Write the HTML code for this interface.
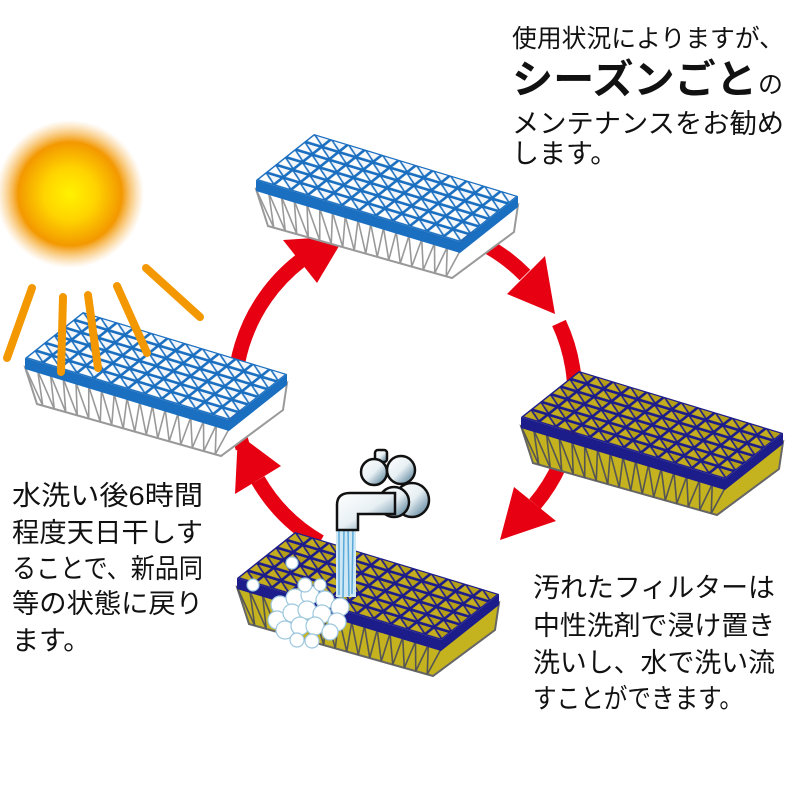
<!DOCTYPE html>
<html><head><meta charset="utf-8"><style>
html,body{margin:0;padding:0;background:#fff;width:800px;height:811px;overflow:hidden}
svg{display:block}
text{font-family:"Liberation Sans","Noto Sans CJK JP",sans-serif;fill:#111}
</style></head><body>
<svg width="800" height="811" viewBox="0 0 800 811" xmlns="http://www.w3.org/2000/svg">
<defs>
<radialGradient id="sun" cx="0.5" cy="0.5" r="0.5">
<stop offset="0" stop-color="#fff200"/><stop offset="0.35" stop-color="#ffd400"/>
<stop offset="0.7" stop-color="#f39800"/><stop offset="1" stop-color="#f7b552" stop-opacity="0"/>
</radialGradient>
<linearGradient id="chrome" x1="0" y1="0" x2="1" y2="1">
<stop offset="0" stop-color="#fff"/><stop offset="0.5" stop-color="#e8f0f4"/><stop offset="1" stop-color="#3f6f8a"/>
</linearGradient>
<pattern id="pb" patternUnits="userSpaceOnUse" width="1" height="1">
<rect width="1" height="1" fill="#1b6fc0"/>
<polygon points="0.1,0.14 0.88,0.14 0.1,0.86" fill="#fff"/>
<polygon points="0.92,0.24 0.92,0.88 0.22,0.88" fill="#f2f6fb"/>
</pattern>
<pattern id="pd" patternUnits="userSpaceOnUse" width="1" height="1">
<rect width="1" height="1" fill="#1c1c8a"/>
<polygon points="0.1,0.14 0.88,0.14 0.1,0.86" fill="#c4ad1e"/>
<polygon points="0.92,0.24 0.92,0.88 0.22,0.88" fill="#b59e18"/>
</pattern>
<g id="zig">
<polyline fill="none" stroke-width="1.6" points="0,9 17.75,47.6 12.75,12.9 29.25,50.9 25.5,16.8 40.75,54.1 38.25,20.6 52.25,57.4 51,24.5 63.75,60.6 63.75,28.4 75.25,63.9 76.5,32.3 86.75,67.1 89.25,36.1 98.25,70.4 102,40 109.75,73.6 114.75,43.9 121.25,76.9 127.5,47.8 132.75,80.1 140.25,51.6 144.25,83.4 153,55.5 155.75,86.6 165.75,59.4 167.25,89.9 178.5,63.3 178.75,93.1 191.25,67.1 190.25,96.4 204,71"/>
</g>
<g id="fb">
<polygon points="0,9 204,71 262,25 258,52 196,98 12,46" fill="#fff" stroke="#999" stroke-width="2"/>
<use href="#zig" stroke="#999"/>
<polygon points="0,0 204,62 262,16 262,27 204,73 0,11" fill="#1b6fc0"/>
<g transform="matrix(17,5.1667,9.6667,-7.6667,0,0)">
<polygon points="0,0 12,0 12,6 0,6" fill="url(#pb)"/>
</g>
</g>
<g id="fd">
<polygon points="0,9 204,71 262,25 258,52 196,98 12,46" fill="#c4b21e" stroke="#666" stroke-width="2"/>
<use href="#zig" stroke="#555"/>
<polygon points="0,0 204,62 262,16 262,27 204,73 0,11" fill="#1c1c8a"/>
<g transform="matrix(17,5.1667,9.6667,-7.6667,0,0)">
<polygon points="0,0 12,0 12,6 0,6" fill="url(#pd)"/>
</g>
</g>
</defs>

<!-- sun -->
<circle cx="70" cy="194" r="74" fill="url(#sun)"/>

<!-- arrows -->
<g fill="none" stroke="#e60012" stroke-width="15">
<path d="M243 448 A170 170 0 0 1 300 261"/>
<path d="M463 235 A170 170 0 0 1 525 275"/>
<path d="M559 323 A170 170 0 0 1 535 504"/>
<path d="M320 542 A170 170 0 0 1 258 480"/>
</g>
<g fill="#e60012">
<polygon points="317,283 283,240 345,236"/>
<polygon points="507,294 545,256 555,314"/>
<polygon points="514,487 556,521 500,540"/>
<polygon points="281,466 235,494 238,434"/>
</g>

<!-- filters -->
<use href="#fb" x="256" y="180"/>
<use href="#fb" x="25" y="358"/>
<use href="#fd" x="521" y="417"/>
<use href="#fd" x="237" y="578"/>

<!-- rays -->
<g stroke="#f39800" stroke-width="8" stroke-linecap="round">
<line x1="7" y1="358" x2="32" y2="288"/>
<line x1="61" y1="372" x2="63" y2="297"/>
<line x1="98" y1="368" x2="88" y2="295"/>
<line x1="147" y1="353" x2="117" y2="286"/>
<line x1="200" y1="317" x2="146" y2="268"/>
</g>

<!-- water -->
<g stroke="#5aa9d8" stroke-width="1.5">
<rect x="336" y="525" width="20" height="72" fill="#cfe8f6" stroke="none"/>
<line x1="339" y1="528" x2="339" y2="595"/><line x1="344" y1="528" x2="343" y2="598"/>
<line x1="348" y1="528" x2="349" y2="596"/><line x1="353" y1="528" x2="352" y2="594"/>
</g>
<!-- faucet -->
<g stroke="#111" stroke-width="2.5" fill="url(#chrome)">
<rect x="375" y="450" width="12" height="12" rx="3"/>
<circle cx="412" cy="500" r="17"/>
<circle cx="394" cy="502" r="15"/>
<path d="M337 530 L337 505 Q337 493 350 493 L395 493 L395 514 L358 514 L358 530 Z"/>
<circle cx="374" cy="472" r="13"/>
<circle cx="401" cy="470" r="14"/>
</g>

<!-- bubbles -->
<g fill="#fff" stroke="#9cc7de" stroke-width="1.2">
<circle cx="253" cy="585" r="6"/><circle cx="292" cy="563" r="6"/>
<circle cx="280" cy="605" r="9"/><circle cx="295" cy="598" r="9"/><circle cx="310" cy="595" r="9"/><circle cx="325" cy="600" r="9"/><circle cx="340" cy="607" r="9"/>
<circle cx="277" cy="620" r="9"/><circle cx="292" cy="613" r="9"/><circle cx="307" cy="610" r="9"/><circle cx="322" cy="614" r="9"/><circle cx="337" cy="622" r="9"/>
<circle cx="285" cy="630" r="9"/><circle cx="300" cy="626" r="9"/><circle cx="315" cy="626" r="9"/><circle cx="330" cy="632" r="8"/>
<circle cx="297" cy="640" r="7"/><circle cx="312" cy="641" r="7"/><circle cx="305" cy="585" r="7"/><circle cx="320" cy="585" r="6"/>
</g>

<!-- text -->
<text x="512" y="47" font-size="25" textLength="272" lengthAdjust="spacingAndGlyphs">使用状況によりますが、</text>
<text x="512" y="93" font-size="40" font-weight="bold" textLength="245" lengthAdjust="spacingAndGlyphs">シーズンごと</text>
<text x="758" y="93" font-size="25">の</text>
<text x="512" y="133" font-size="27" textLength="272" lengthAdjust="spacingAndGlyphs">メンテナンスをお勧め</text>
<text x="512" y="163" font-size="27">します。</text>

<text font-size="27">
<tspan x="12" y="505" textLength="191" lengthAdjust="spacingAndGlyphs">水洗い後6時間</tspan>
<tspan x="12" y="542" textLength="191" lengthAdjust="spacingAndGlyphs">程度天日干しす</tspan>
<tspan x="12" y="578" textLength="191" lengthAdjust="spacingAndGlyphs">ることで、新品同</tspan>
<tspan x="12" y="613" textLength="191" lengthAdjust="spacingAndGlyphs">等の状態に戻り</tspan>
<tspan x="12" y="650">ます。</tspan>
</text>
<text font-size="27">
<tspan x="533" y="597" textLength="242" lengthAdjust="spacingAndGlyphs">汚れたフィルターは</tspan>
<tspan x="533" y="635" textLength="242" lengthAdjust="spacingAndGlyphs">中性洗剤で浸け置き</tspan>
<tspan x="533" y="672" textLength="242" lengthAdjust="spacingAndGlyphs">洗いし、水で洗い流</tspan>
<tspan x="533" y="708" textLength="210" lengthAdjust="spacingAndGlyphs">すことができます。</tspan>
</text>
</svg>
</body></html>
